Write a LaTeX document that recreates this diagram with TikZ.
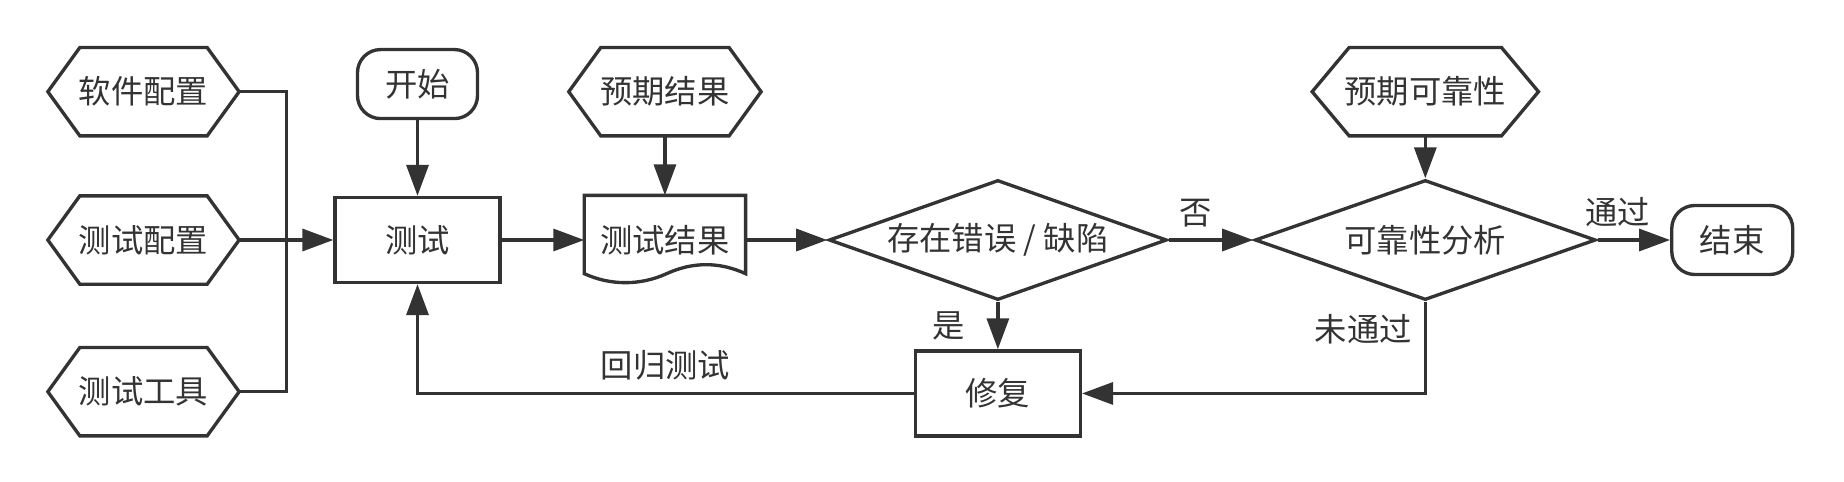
\documentclass[tikz,border=0pt]{standalone}
\usepackage{fontspec}
\setmainfont{Noto Sans CJK SC}
\usepackage{tikz}
\usetikzlibrary{positioning,shapes.geometric,arrows.meta}
\definecolor{ink}{HTML}{333333}

\begin{document}
\begin{tikzpicture}[
    font=\fontsize{9.2}{11}\selectfont,
    color=ink, line width=0.95pt,
    box/.style={draw, minimum width=16.5mm, minimum height=8.5mm, inner sep=0pt},
    term/.style={draw, rounded corners=2.3mm, minimum width=12mm, minimum height=6.9mm, inner sep=0pt},
    decision/.style={draw, diamond, aspect=2.8, inner sep=0pt, minimum width=33.8mm, minimum height=12mm},
    hexlabel/.style={minimum width=18.8mm, minimum height=8.5mm, inner sep=0pt},
    flow/.style={-{Triangle[length=3.1mm,width=2.2mm]}}
  ]
      \useasboundingbox (0,0) rectangle (18.44,-4.82);
      \node[hexlabel] (soft) at (1.435, -0.917) {软件配置};
      \node[hexlabel] (tcfg) at (1.435, -2.40) {测试配置};
      \node[hexlabel] (tool) at (1.435, -3.917) {测试工具};
      \coordinate (junc) at (2.866, -2.40);
      \node[box] (test) at (4.175, -2.40) {测试};
      \node[term, above=7.56mm of test] (start) {开始};
      \node[minimum width=15.8mm, minimum height=8.6mm, inner sep=0pt, right=8.26mm of test] (result) {测试结果};
      \node[hexlabel, minimum width=18.9mm] (expres) at (result |- soft) {预期结果};
      \node[decision, right=8.16mm of result] (err) {存在错误 / 缺陷};
      \node[box, below=4.76mm of err] (fix) {修复};
      \node[decision, minimum width=34.1mm, right=8.46mm of err] (rel) {可靠性分析};
      \node[hexlabel, minimum width=22.3mm] (exprel) at (rel |- soft) {预期可靠性};
      \node[term, minimum width=12.1mm, right=7.26mm of rel] (finish) {结束};
      % hexagon outlines
      \foreach \nm/\cut in {soft/3.2mm, tcfg/3.2mm, tool/3.2mm, expres/3.2mm, exprel/3.7mm}
        \draw (\nm.west) -- ([xshift=\cut]\nm.north west) -- ([xshift=-\cut]\nm.north east)
          -- (\nm.east) -- ([xshift=-\cut]\nm.south east) -- ([xshift=\cut]\nm.south west) -- cycle;
      % document outline
      \draw (result.north west) -- (result.north east) -- ([yshift=1.1mm]result.south east)
        .. controls +(-0.263,0.12) and +(0.263,0.12) .. ([xshift=-7.9mm,yshift=1.1mm]result.south east)
        .. controls +(-0.263,-0.12) and +(0.263,-0.12) .. ([yshift=1.1mm]result.south west) -- cycle;
      \draw (soft.east) -| (junc);
      \draw (tool.east) -| (junc);
      \draw[flow] (tcfg.east) -- (test.west);
      \draw[flow] (start.south) -- (test.north);
      \draw[flow] (test.east) -- (result.west);
      \draw[flow] (expres.south) -- (result.north);
      \draw[flow] (result.east) -- (err.west);
      \draw[flow] (err.east) -- node[pos=0.32, above] {否} (rel.west);
      \draw[flow] (exprel.south) -- (rel.north);
      \draw[flow] (rel.east) -- node[pos=0.28, above] {通过} (finish.west);
      \draw[flow] (err.south) -- node[midway, left=2mm] {是} (fix.north);
      \draw[flow] (rel.south) |- node[pos=0.15, left] {未通过} (fix.east);
      \draw[flow] (fix.west) -| node[pos=0.25, above] {回归测试} (test.south);
\end{tikzpicture}
\end{document}
